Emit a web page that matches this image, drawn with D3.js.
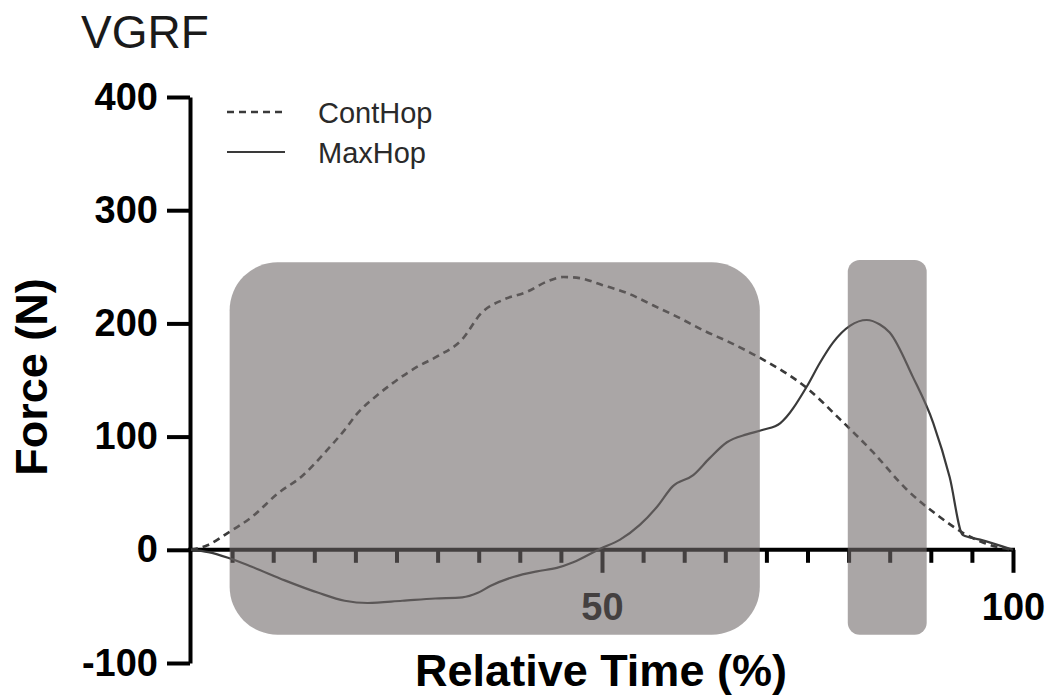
<!DOCTYPE html>
<html>
<head>
<meta charset="utf-8">
<script src="https://cdn.jsdelivr.net/npm/d3@7"></script>
<style>
  html, body { margin: 0; padding: 0; background: #fff; }
  svg { display: block; }
  text { font-family: "Liberation Sans", Arial, Helvetica, sans-serif; }
</style>
</head>
<body>
<svg id="chart" width="1050" height="700"></svg>
<script>
// ---------------- data ----------------
const contTime  = [0, 2, 4.5, 7.4, 10.6, 13.5, 16.3, 18.7, 20.3, 22.4, 24.5, 27.6, 30, 33, 35.3, 38, 40.9, 43.3, 45.3, 47.3, 50, 53, 56.2, 59.1, 62.3, 65.6, 69.6, 74.9, 79, 83, 87.1, 91.1, 93.9, 96.5, 100];
const contForce = [0, 4, 15, 29, 50, 65, 86, 106, 121, 135, 147, 162, 171, 186, 209, 221, 228, 237, 241, 240, 234, 227, 216, 206, 194, 183, 168, 143, 115, 86, 53, 29, 15, 6, 0];

const maxTime  = [0, 2.1, 4.5, 7.4, 11.4, 15.5, 18.7, 21.5, 25.7, 29.7, 33, 34.9, 36.4, 39.2, 42.1, 44.5, 46.5, 49.8, 52.2, 54.6, 56.7, 58.6, 61.1, 63.1, 65.2, 67.6, 69.6, 71.7, 74.9, 76.5, 78.1, 80.2, 82.2, 83.8, 85, 87.8, 90.3, 92.3, 93.9, 96, 100];
const maxForce = [0, -2, -7, -15, -27, -38, -45, -47, -45, -43, -42, -38, -32, -24, -19, -16, -11, 1, 9, 22, 38, 56, 66, 81, 95, 102, 106, 112, 144, 165, 183, 198, 203, 199, 192, 153, 112, 64, 13, 9, 0];

const yTicks = [-100, 0, 100, 200, 300, 400];
const xTicks = [5, 10, 15, 20, 25, 30, 35, 40, 45, 50, 55, 60, 65, 70, 75, 80, 85, 90, 95, 100];
const xLabelTicks = [50, 100];

// shaded phases in data units
const phaseX0 = [4.7, 79.9];
const phaseX1 = [69.2, 89.5];
const phaseTop = [254, 256];
const phaseBottom = [-75, -75];

const seriesNames = ["ContHop", "MaxHop"];

// ---------------- chart ----------------
const svg = d3.select("#chart");
const x = d3.scaleLinear().domain([0, 100]).range([191, 1013]);
const y = d3.scaleLinear().domain([-100, 400]).range([663, 97]);

const lineColor = "#3a3a3a";

// Y axis
const yAxis = svg.append("g").attr("transform", `translate(${x(0) - 1},0)`)
  .call(d3.axisLeft(y).tickValues(yTicks).tickSize(23).tickSizeOuter(0).tickPadding(9)
    .tickFormat(d => String(d)));
yAxis.select(".domain").attr("stroke", "#000").attr("stroke-width", 4);
yAxis.selectAll(".tick line").attr("stroke", "#000").attr("stroke-width", 4);
yAxis.selectAll(".tick text")
  .attr("font-size", 38).attr("font-weight", "bold").attr("fill", "#000")
  .attr("font-family", "Liberation Sans, Arial, sans-serif");

// X axis
const xAxis = svg.append("g").attr("transform", `translate(0,${y(0)})`)
  .call(d3.axisBottom(x).tickValues(xTicks).tickSize(13).tickSizeOuter(0).tickPadding(30)
    .tickFormat(d => xLabelTicks.includes(d) ? String(d) : ""));
xAxis.select(".domain").attr("d", `M${x(0) - 3},0H${x(100) + 2}`).attr("stroke", "#000").attr("stroke-width", 4);
xAxis.selectAll(".tick line").attr("stroke", "#000").attr("stroke-width", 4)
  .attr("y2", d => xLabelTicks.includes(d) ? 23 : 13);
xAxis.selectAll(".tick text")
  .attr("font-size", 38).attr("font-weight", "bold").attr("fill", "#000")
  .attr("font-family", "Liberation Sans, Arial, sans-serif");

// lines
const lineGen = d3.line().x(d => x(d[0])).y(d => y(d[1])).curve(d3.curveMonotoneX);
const contData = contTime.map((t, i) => [t, contForce[i]]);
const maxData = maxTime.map((t, i) => [t, maxForce[i]]);

svg.append("path").datum(contData).attr("d", lineGen)
  .attr("fill", "none").attr("stroke", lineColor).attr("stroke-width", 2.6)
  .attr("stroke-dasharray", "7,5");
svg.append("path").datum(maxData).attr("d", lineGen)
  .attr("fill", "none").attr("stroke", lineColor).attr("stroke-width", 2.2);

// shaded phases (drawn on top, translucent)
const phases = phaseX0.map((v, i) => ({ x0: v, x1: phaseX1[i], top: phaseTop[i], bottom: phaseBottom[i] }));
svg.append("g").selectAll("rect").data(phases).join("rect")
  .attr("x", d => x(d.x0))
  .attr("y", d => y(d.top))
  .attr("width", d => x(d.x1) - x(d.x0))
  .attr("height", d => y(d.bottom) - y(d.top))
  .attr("rx", (d, i) => i === 0 ? 48 : 12)
  .attr("fill", "rgb(114,106,106)")
  .attr("fill-opacity", 0.6);

// legend
const legend = svg.append("g");
const legY = [112, 152];
seriesNames.forEach((name, i) => {
  legend.append("line")
    .attr("x1", 227).attr("x2", 285).attr("y1", legY[i]).attr("y2", legY[i])
    .attr("stroke", lineColor).attr("stroke-width", i === 0 ? 2.6 : 2.2)
    .attr("stroke-dasharray", i === 0 ? "7,5" : null);
  legend.append("text")
    .attr("x", 318).attr("y", legY[i] + 11)
    .attr("font-size", 29).attr("fill", "#2a2a2a").text(name);
});

// titles
svg.append("text").attr("x", 81).attr("y", 48)
  .attr("font-size", 46).attr("fill", "#1a1a1a").text("VGRF");

svg.append("text")
  .attr("transform", "translate(47,377) rotate(-90)")
  .attr("text-anchor", "middle")
  .attr("font-size", 45).attr("font-weight", "bold").attr("fill", "#000")
  .text("Force (N)");

svg.append("text")
  .attr("x", 601).attr("y", 686)
  .attr("text-anchor", "middle")
  .attr("font-size", 45).attr("font-weight", "bold").attr("fill", "#000")
  .text("Relative Time (%)");
</script>
</body>
</html>
